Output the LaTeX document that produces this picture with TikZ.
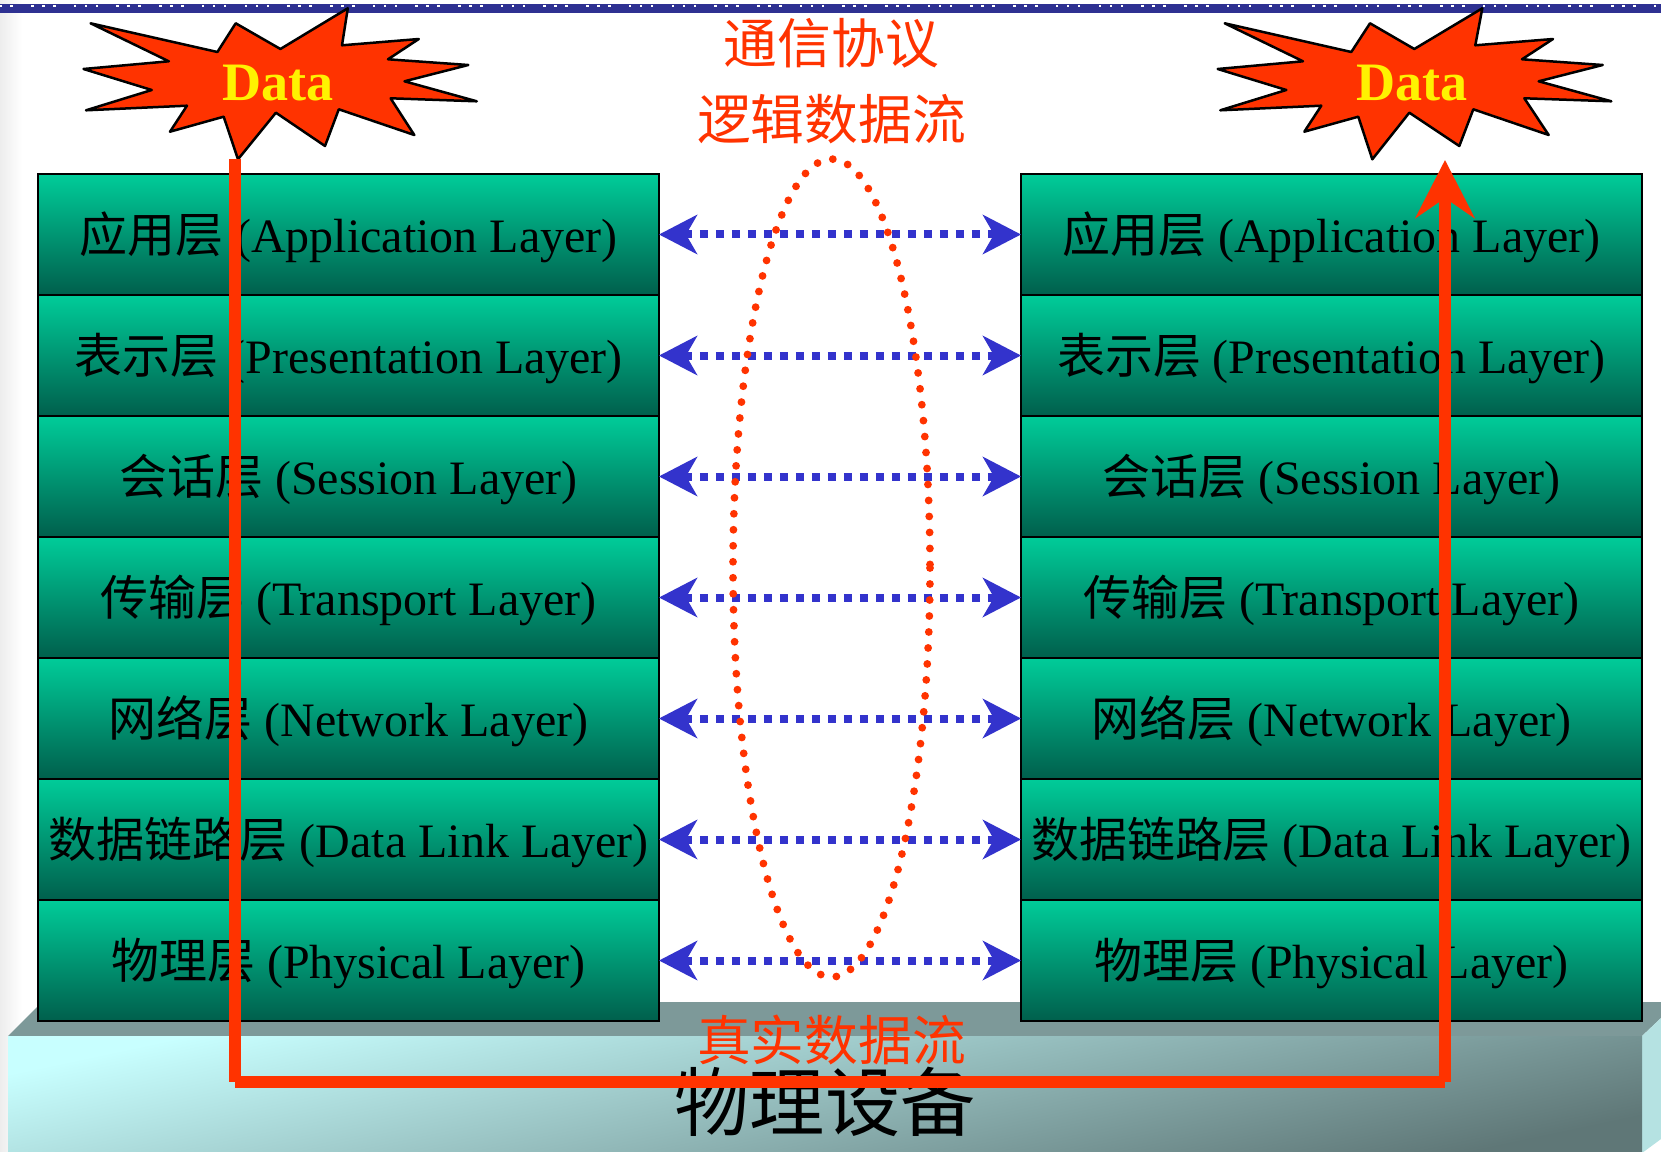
\documentclass[tikz,border=0pt]{standalone}
\usepackage{fontspec}
\setmainfont{Liberation Serif}
\newfontfamily\cjk{Noto Sans CJK SC}
\usepackage{tikz}
\usetikzlibrary{arrows.meta}

\definecolor{barblue}{HTML}{2E3192}
\definecolor{flowred}{HTML}{FF3300}
\definecolor{linkblue}{HTML}{3333CC}
\definecolor{boxtop}{HTML}{00CC99}
\definecolor{boxmid}{HTML}{009C78}
\definecolor{boxbottom}{HTML}{005F4C}
\definecolor{slabtop}{HTML}{7D9999}
\definecolor{slablight}{HTML}{C8FFFF}
\definecolor{slabdark}{HTML}{5F7777}
\definecolor{slabside}{HTML}{B5E2E2}

\tikzset{
	layerbox/.style={draw=black, line width=0.2mm, top color=boxtop, middle color=boxmid, bottom color=boxbottom, minimum width=62.1mm, minimum height=12.1mm, inner sep=0pt, outer sep=0pt, text height=4.6mm, text depth=1mm, font=\fontsize{13.65}{16}\selectfont},
	burst/.style={draw=black, line width=0.25mm, fill=flowred, line join=round},
	datatext/.style={text=yellow, inner sep=0pt, font=\fontsize{15.4}{18}\selectfont\bfseries},
	redtext/.style={text=flowred, inner sep=0pt, font=\fontsize{15.3}{18}\selectfont\cjk},
	peerlink/.style={linkblue, line width=0.8mm, dash pattern=on 0.8mm off 0.8mm, {Stealth[length=3.8mm,width=3.9mm,inset=1.1mm]}-{Stealth[length=3.8mm,width=3.9mm,inset=1.1mm]}},
	realflow/.style={flowred, line width=1.2mm}
}

\begin{document}
\begin{tikzpicture}[x=0.1mm, y=-0.1mm]
	\useasboundingbox (0,0) rectangle (1661,1151.6);

	% Page background
	\fill[white] (0,0) rectangle (1661,1153);
	\shade[left color=black!7, right color=white] (0,0) rectangle (22,1153);

	% Top bar
	\fill[barblue] (0,4) rectangle (1661,12.7);
	\foreach \k in {0,...,39} {
		\foreach \d in {0,11,22} {
			\fill[white] ({-11.7+42.7*\k+\d},5) rectangle ++(2.6,2.4);
		}
	}

	% Slab under the stacks
	\fill[slabtop] (8,1036) -- (42,1002) -- (1661,1002) -- (1661,1018) -- (1642,1036) -- cycle;
	\fill[slabside] (1642,1036) -- (1661,1018) -- (1661,1139) -- (1642,1153) -- cycle;
	\shade[shading=axis, top color=slablight, bottom color=slabdark, shading angle=12] (8,1036) rectangle (1642,1153);
	\node (slabtext) at (825,1102) [inner sep=0pt, font=\fontsize{21.4}{24}\selectfont\cjk] {物理设备};

	% Left stack
	\node (appL) at (348.5,234.5) [layerbox] {{\cjk 应用层} (Application Layer)};
	\node (preL) at (348.5,355.5) [layerbox] {{\cjk 表示层} (Presentation Layer)};
	\node (sesL) at (348.5,476.5) [layerbox] {{\cjk 会话层} (Session Layer)};
	\node (traL) at (348.5,597.5) [layerbox] {{\cjk 传输层} (Transport Layer)};
	\node (netL) at (348.5,718.5) [layerbox] {{\cjk 网络层} (Network Layer)};
	\node (linL) at (348.5,839.5) [layerbox] {{\cjk 数据链路层} (Data Link Layer)};
	\node (phyL) at (348.5,960.5) [layerbox] {{\cjk 物理层} (Physical Layer)};

	% Right stack
	\node (appR) at (1331.5,234.5) [layerbox] {{\cjk 应用层} (Application Layer)};
	\node (preR) at (1331.5,355.5) [layerbox] {{\cjk 表示层} (Presentation Layer)};
	\node (sesR) at (1331.5,476.5) [layerbox] {{\cjk 会话层} (Session Layer)};
	\node (traR) at (1331.5,597.5) [layerbox] {{\cjk 传输层} (Transport Layer)};
	\node (netR) at (1331.5,718.5) [layerbox] {{\cjk 网络层} (Network Layer)};
	\node (linR) at (1331.5,839.5) [layerbox] {{\cjk 数据链路层} (Data Link Layer)};
	\node (phyR) at (1331.5,960.5) [layerbox] {{\cjk 物理层} (Physical Layer)};

	% Peer links
	\draw[peerlink] (appL.east) -- (appR.west);
	\draw[peerlink] (preL.east) -- (preR.west);
	\draw[peerlink] (sesL.east) -- (sesR.west);
	\draw[peerlink] (traL.east) -- (traR.west);
	\draw[peerlink] (netL.east) -- (netR.west);
	\draw[peerlink] (linL.east) -- (linR.west);
	\draw[peerlink] (phyL.east) -- (phyR.west);

	% Dotted ring over the links
	\draw[flowred, line width=0.78mm, line cap=round, dash pattern=on 0pt off 1.6mm] (831.5,568) ellipse [x radius=98.5, y radius=409];

	% Left burst
	\draw[burst] (90.6,23.3) -- (217.4,52) -- (235.7,23.3) -- (280.4,49) -- (347.8,8.3) -- (342,45.3) -- (418.8,39) -- (388,59.3) -- (468.3,65) -- (404.5,81.3) -- (476.8,101.3) -- (390.6,98.3) -- (414.3,135) -- (338.8,109.3) -- (325,146) -- (275.9,112.7) -- (238,159.3) -- (223.7,116.7) -- (170,131.7) -- (187,105.7) -- (86,110.3) -- (151.8,90) -- (83.5,69) -- (168.8,61.3) -- cycle;
	\node (dataL) at (278,83) [datatext] {Data};

	% Right burst
	\draw[burst] (1224.7,23.3) -- (1351.3,52) -- (1370,23.3) -- (1414.3,49) -- (1482.3,8.3) -- (1475.3,45.3) -- (1553,39) -- (1522,59.3) -- (1602.7,65) -- (1538.7,81.3) -- (1611.3,101.3) -- (1524.3,98.3) -- (1548.7,135) -- (1473.3,109.3) -- (1459.3,146) -- (1409.3,112.7) -- (1372.3,159.3) -- (1358.3,116.7) -- (1304.3,131.7) -- (1321.3,105.7) -- (1220.3,110.3) -- (1286.3,90) -- (1217.7,69) -- (1303,61.3) -- cycle;
	\node (dataR) at (1412,83) [datatext] {Data};

	% Red labels
	\node (protoA) at (831.5,43) [redtext] {通信协议};
	\node (protoB) at (831.5,119) [redtext] {逻辑数据流};
	\node (realtext) at (831.5,1040) [redtext] {真实数据流};

	% Real data path
	\coordinate (pathstart) at (235,159);
	\coordinate (cornerL) at (235,1082);
	\coordinate (cornerR) at (1445,1082);
	\coordinate (pathend) at (1445,160);
	\draw[realflow] (pathstart) -- (cornerL);
	\draw[realflow] (cornerL) -- (cornerR);
	\draw[realflow, -{Stealth[length=5.8mm,width=5.9mm,inset=2mm]}] (cornerR) -- (pathend);

\end{tikzpicture}
\end{document}
